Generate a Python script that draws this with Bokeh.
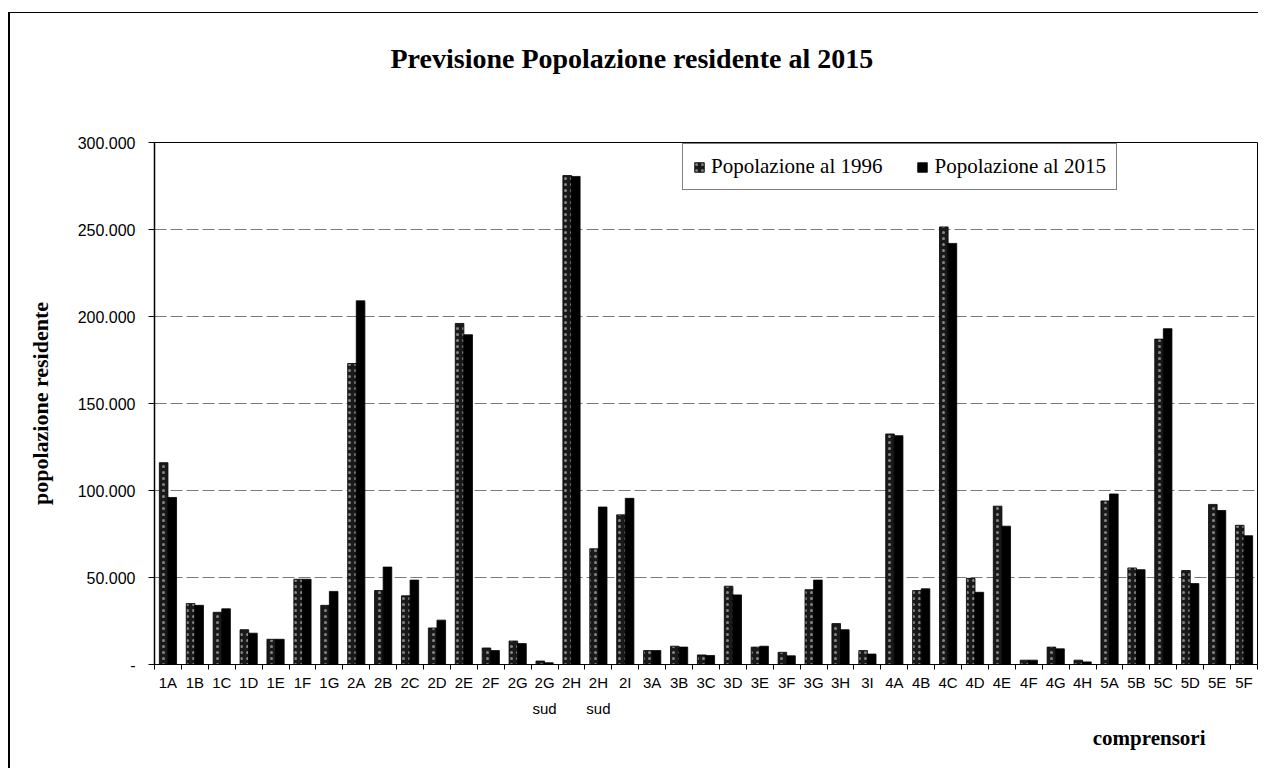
from bokeh.plotting import figure
from bokeh.models import (FixedTicker, LinearAxis, Range1d, Legend, LegendItem, Title)
from bokeh.embed import file_html
from bokeh.resources import INLINE

# ---------------- data ----------------
categories = ["1A", "1B", "1C", "1D", "1E", "1F", "1G",
              "2A", "2B", "2C", "2D", "2E", "2F", "2G", "2G sud", "2H", "2H sud", "2I",
              "3A", "3B", "3C", "3D", "3E", "3F", "3G", "3H", "3I",
              "4A", "4B", "4C", "4D", "4E", "4F", "4G", "4H",
              "5A", "5B", "5C", "5D", "5E", "5F"]

pop_1996 = [116000, 35000, 30000, 20000, 14500, 49000, 34000,
            173000, 42500, 39500, 21000, 196000, 9500, 13500, 2000, 281000, 66500, 86000,
            8000, 10500, 5500, 45000, 10000, 7000, 43000, 23500, 8000,
            132500, 42500, 251500, 49500, 91000, 2500, 10000, 2500,
            94000, 55500, 187000, 54000, 92000, 80000]

pop_2015 = [96000, 34000, 32000, 18000, 14500, 49000, 42000,
            209000, 56000, 48500, 25500, 189500, 8000, 12000, 1000, 280500, 90500, 95500,
            8000, 10000, 5200, 40000, 10500, 5000, 48500, 20000, 6000,
            131500, 43500, 242000, 41500, 79500, 2500, 9000, 1500,
            98000, 54500, 193000, 46500, 88500, 74000]

y_ticks = [0, 50000, 100000, 150000, 200000, 250000, 300000]
y_tick_labels = ["-", "50.000", "100.000", "150.000", "200.000", "250.000", "300.000"]

title_text = "Previsione Popolazione residente al 2015"
y_title = "popolazione residente"
x_title = "comprensori"
series_names = ["Popolazione al 1996", "Popolazione al 2015"]

# ---------------- figure ----------------
SERIF = "Liberation Serif"
SANS = "Liberation Sans"

n = len(categories)
centers = [i + 0.5 for i in range(n)]
bar_w = 0.32
x_1996 = [c - bar_w / 2 for c in centers]
x_2015 = [c + bar_w / 2 for c in centers]

p = figure(width=1250, height=756, x_range=Range1d(0, n), y_range=Range1d(0, 300000),
           output_backend="svg", toolbar_location=None,
           min_border_left=144, min_border_right=3, min_border_top=129, min_border_bottom=105)
p.background_fill_color = "white"
p.border_fill_color = "white"
p.outline_line_color = "black"
p.outline_line_width = 1
p.styles = {"margin": "12px 0px 0px 8px",
            "border-left": "2px solid black", "border-top": "1px solid black"}

r1 = p.vbar(x=x_1996, top=pop_1996, width=bar_w, fill_color="#1a1a1a", line_color="black",
            line_width=0.8, hatch_pattern="dot", hatch_color="#a0a0a0", hatch_scale=6,
            hatch_weight=0.6, hatch_alpha=0.8)
r2 = p.vbar(x=x_2015, top=pop_2015, width=bar_w, fill_color="black", line_color="black",
            line_width=0.8)

# y axis
yax = p.yaxis[0]
yax.ticker = FixedTicker(ticks=y_ticks, minor_ticks=[])
yax.major_label_overrides = {t: l for t, l in zip(y_ticks, y_tick_labels)}
yax.major_label_text_font = SANS
yax.major_label_text_font_size = "16px"
yax.major_label_text_color = "black"
yax.major_tick_out = 6
yax.major_tick_in = 0
yax.major_label_standoff = 13
yax.axis_line_width = 1.5
yax.axis_line_color = "black"
yax.axis_label = y_title
yax.axis_label_text_font = SERIF
yax.axis_label_text_font_style = "bold"
yax.axis_label_text_font_size = "22px"
yax.axis_label_text_color = "black"
yax.axis_label_standoff = 22

# x axis (category labels, first line)
first_lines = [c.split(" ")[0] for c in categories]
second_lines = [c.split(" ")[1] if " " in c else "" for c in categories]

xax = p.xaxis[0]
xax.ticker = FixedTicker(ticks=centers, minor_ticks=list(range(n + 1)))
xax.major_label_overrides = {c: l for c, l in zip(centers, first_lines)}
xax.major_label_text_font = SANS
xax.major_label_text_font_size = "15px"
xax.major_label_text_color = "black"
xax.major_tick_line_color = None
xax.minor_tick_out = 5
xax.minor_tick_in = 0
xax.minor_tick_line_color = "black"
xax.axis_line_color = "black"
xax.major_label_standoff = 3

# second line of category labels ("sud")
xax2 = LinearAxis(ticker=FixedTicker(ticks=centers, minor_ticks=[]),
                  major_label_overrides={c: l for c, l in zip(centers, second_lines)},
                  major_label_text_font=SANS, major_label_text_font_size="15px",
                  major_label_text_color="black",
                  axis_line_color=None, major_tick_line_color=None, minor_tick_line_color=None,
                  major_label_standoff=0)
p.add_layout(xax2, "below")

p.add_layout(Title(text=x_title, align="right", offset=52, text_font=SERIF,
                   text_font_style="bold", text_font_size="21px", text_color="black",
                   standoff=8), "below")

# grid
p.xgrid.visible = False
p.ygrid.ticker = FixedTicker(ticks=y_ticks)
p.ygrid.grid_line_color = "#7a7a7a"
p.ygrid.grid_line_dash = "12 4"
p.ygrid.grid_line_width = 1

# titles above
p.add_layout(Title(text=" ", text_font_size="46px"), "above")
p.add_layout(Title(text=title_text, align="left", offset=236, text_font=SERIF,
                   text_color="black", text_font_style="bold", text_font_size="28px"), "above")

# legend
legend = Legend(items=[LegendItem(label=series_names[0], renderers=[r1]),
                       LegendItem(label=series_names[1], renderers=[r2])],
                orientation="horizontal", location=(528, 474),
                label_text_font=SERIF, label_text_font_size="21px", label_text_color="black",
                border_line_color="black", border_line_width=1,
                glyph_width=12, glyph_height=12, spacing=34, padding=10, margin=0,
                label_standoff=6, background_fill_alpha=1)
p.add_layout(legend)

open("out.html", "w").write(file_html(p, INLINE))
